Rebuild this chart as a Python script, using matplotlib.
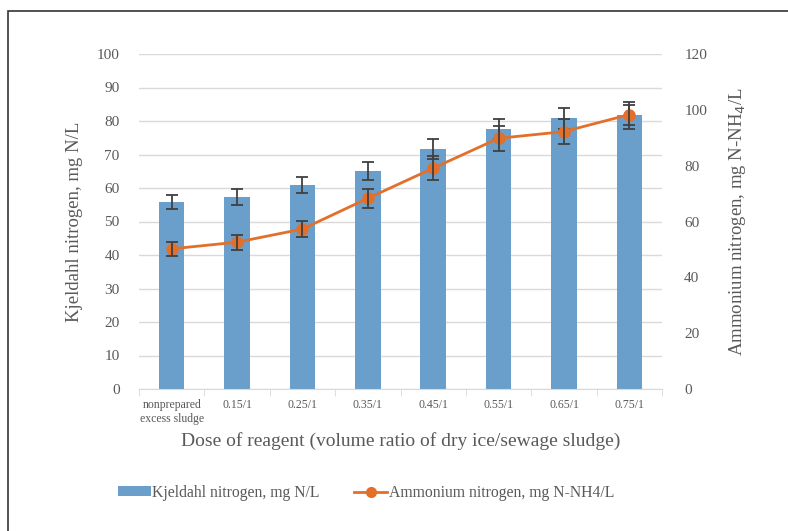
import matplotlib.pyplot as plt
import numpy as np
from matplotlib.patches import Rectangle
from matplotlib.lines import Line2D
from matplotlib.patches import Patch

categories = ["nonprepared\nexcess sludge", "0.15/1", "0.25/1", "0.35/1",
              "0.45/1", "0.55/1", "0.65/1", "0.75/1"]
kjeldahl = [55.8, 57.4, 60.8, 65.0, 71.6, 77.5, 80.8, 81.7]
kjeldahl_err = [2.2, 2.4, 2.4, 2.7, 3.0, 3.0, 3.2, 4.0]
ammonium = [50.2, 52.6, 57.3, 68.3, 79.1, 89.8, 92.2, 98.3]
ammonium_err = [2.4, 2.7, 2.8, 3.5, 4.2, 4.4, 4.5, 3.6]

plt.rcParams['font.family'] = ['Liberation Serif', 'DejaVu Serif']
text_color = "#595959"
bar_color = "#6A9FCB"
line_color = "#E2702A"
err_color = "#404040"

fig = plt.figure(figsize=(7.88, 5.31), dpi=100)
ax = fig.add_axes([139 / 788, 1 - 389 / 531, 523 / 788, 335 / 531])
ax2 = ax.twinx()

x = np.arange(len(categories))
ax.bar(x, kjeldahl, width=0.39, color=bar_color, zorder=2)
ax.errorbar(x, kjeldahl, yerr=kjeldahl_err, fmt="none", ecolor=err_color,
            elinewidth=1.3, capsize=4, capthick=1.3, zorder=3)

ax2.plot(x, ammonium, color=line_color, lw=2, marker="o", markersize=8, zorder=4)
ax2.errorbar(x, ammonium, yerr=ammonium_err, fmt="none", ecolor=err_color,
             elinewidth=1.3, capsize=4, capthick=1.3, zorder=5)

ax.set_xlim(-0.5, len(categories) - 0.5)
ax.set_ylim(0, 100)
ax2.set_ylim(0, 120)
ax.set_yticks(np.arange(0, 101, 10))
ax2.set_yticks(np.arange(0, 121, 20))

ax.grid(axis="y", color="#D9D9D9", lw=1, zorder=0)
ax.set_axisbelow(True)

for a in (ax, ax2):
    for s in ("top", "left", "right"):
        a.spines[s].set_visible(False)
    a.spines["bottom"].set_color("#D9D9D9")
    a.tick_params(axis="y", length=0, colors=text_color, labelsize=11)
ax2.spines["bottom"].set_visible(False)
ax.tick_params(axis="y", pad=14)
ax2.tick_params(axis="y", pad=16)

ax.set_xticks(x)
ax.set_xticklabels(categories, fontsize=8.5, color=text_color, linespacing=1.3)
ax.tick_params(axis="x", length=0, pad=7)
ax.set_xticks(np.arange(-0.5, len(categories), 1), minor=True)
ax.tick_params(axis="x", which="minor", length=5, color="#D9D9D9")

ax.set_ylabel("Kjeldahl nitrogen, mg N/L", fontsize=13.5, color=text_color, labelpad=10)
ax2.set_ylabel("Ammonium nitrogen, mg N-NH$_4$/L", fontsize=13.5, color=text_color, labelpad=14)
ax.set_xlabel("Dose of reagent (volume ratio of dry ice/sewage sludge)",
              fontsize=14, color=text_color, labelpad=5)

handles = [Patch(facecolor=bar_color, edgecolor="none"),
           Line2D([0], [0], color=line_color, lw=2, marker="o", markersize=7)]
fig.legend(handles, ["Kjeldahl nitrogen, mg N/L", "Ammonium nitrogen, mg N-NH4/L"],
           loc="center", bbox_to_anchor=(366 / 788, 1 - 493 / 531), ncol=2,
           frameon=False, fontsize=11.3, labelcolor=text_color,
           handlelength=2.1, handletextpad=0.1, columnspacing=2.2,
           handleheight=0.6)

fig.add_artist(Rectangle((8 / 788, -0.1), 1.2, 1.1 - 11 / 531, transform=fig.transFigure,
                         fill=False, edgecolor="#333333", lw=1.2))

fig.savefig("out.png", dpi=100)
